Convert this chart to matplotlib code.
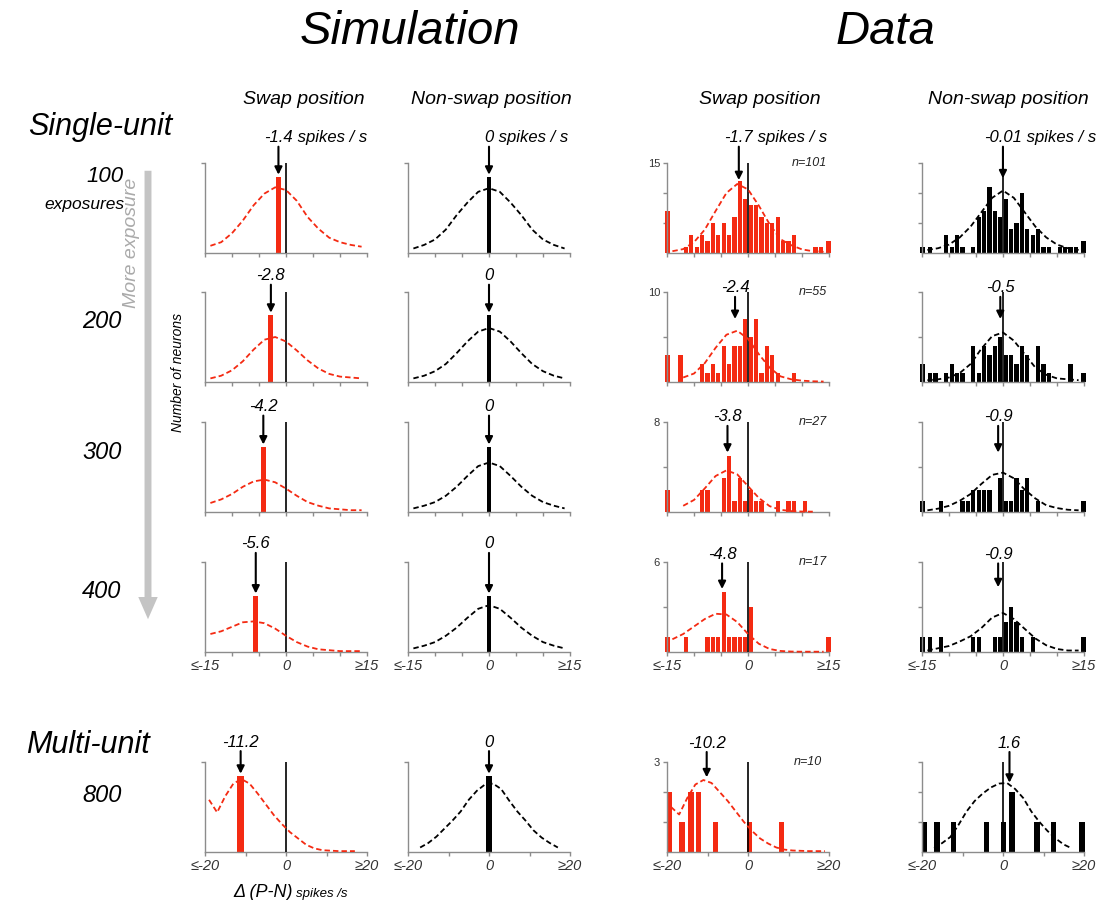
import numpy as np
import matplotlib.pyplot as plt
from matplotlib.patches import FancyArrowPatch

plt.rcParams['font.family'] = ['Liberation Sans', 'DejaVu Sans']

RED = '#f42a12'
AXC = '#8c8c8c'
nan = np.nan

# ---------------------------------------------------------------------------
# Values
# ---------------------------------------------------------------------------
exposures = ['100', '200', '300', '400', '800']

# sample points of the dashed fits (single-unit rows use +-15, multi-unit +-20)
fit_x15 = [-14, -12, -10, -8, -6, -4, -2, 0, 2, 4, 6, 8, 10, 12, 14]
fit_x20 = [-19, -17, -15, -13, -11, -9, -7, -5, -3, -1, 1, 3, 5, 7, 9, 11, 13, 15, 17, 19]

# simulation, swap position
sim_swap_mean = [-1.4, -2.8, -4.2, -5.6, -11.2]
sim_swap_bar = [0.84, 0.74, 0.72, 0.62, 0.84]
sim_swap_fit = [
    [0.08, 0.12, 0.22, 0.36, 0.53, 0.66, 0.73, 0.70, 0.58, 0.40, 0.27, 0.17, 0.12, 0.09, 0.07],
    [0.04, 0.07, 0.13, 0.23, 0.36, 0.47, 0.50, 0.45, 0.35, 0.24, 0.15, 0.09, 0.06, 0.05, 0.04],
    [0.10, 0.14, 0.20, 0.28, 0.34, 0.36, 0.33, 0.26, 0.18, 0.11, 0.07, 0.04, 0.03, 0.02, 0.02],
    [0.20, 0.23, 0.28, 0.33, 0.34, 0.32, 0.26, 0.18, 0.11, 0.06, 0.03, 0.02, 0.01, 0.01, 0.01],
    [0.58, 0.44, 0.62, 0.76, 0.81, 0.76, 0.65, 0.53, 0.41, 0.31, 0.22, 0.15, 0.08, 0.04, 0.02,
     0.015, 0.01, 0.01, 0.01, nan],
]

# simulation, non-swap position
sim_non_mean = [0, 0, 0, 0, 0]
sim_non_bar = [0.84, 0.74, 0.72, 0.62, 0.84]
sim_non_fit = [
    [0.05, 0.09, 0.15, 0.26, 0.42, 0.56, 0.68, 0.72, 0.68, 0.56, 0.42, 0.26, 0.15, 0.09, 0.05],
    [0.04, 0.07, 0.12, 0.20, 0.32, 0.45, 0.56, 0.60, 0.56, 0.45, 0.32, 0.20, 0.12, 0.07, 0.04],
    [0.04, 0.07, 0.11, 0.18, 0.28, 0.40, 0.51, 0.55, 0.51, 0.40, 0.28, 0.18, 0.11, 0.07, 0.04],
    [0.04, 0.07, 0.11, 0.18, 0.27, 0.38, 0.48, 0.52, 0.48, 0.38, 0.27, 0.18, 0.11, 0.07, 0.04],
    [nan, 0.05, 0.10, 0.17, 0.26, 0.35, 0.45, 0.58, 0.68, 0.75, 0.76, 0.70, 0.57, 0.45, 0.35,
     0.24, 0.16, 0.10, 0.05, nan],
]

# recorded data, histogram scales
data_ymax = [15, 10, 8, 6, 3]
data_yticks = [[5, 10, 15], [5, 10], [4, 8], [3, 6], [1, 2, 3]]
data_n = [101, 55, 27, 17, 10]

# recorded data, swap position
data_swap_mean = [-1.7, -2.4, -3.8, -4.8, -10.2]
data_swap_x = [
    [-14.9, -11.5, -10.5, -9.5, -8.5, -7.5, -6.5, -5.5, -4.5, -3.5, -2.5, -1.5, -0.5,
     0.5, 1.5, 2.5, 3.5, 4.5, 5.5, 6.5, 7.5, 8.5, 12.5, 13.5, 14.9],
    [-14.9, -12.5, -8.5, -7.5, -6.5, -5.5, -4.5, -3.5, -2.5, -1.5, -0.5, 0.5, 1.5, 2.5,
     3.5, 4.5, 5.5, 8.5],
    [-14.9, -8.5, -7.5, -4.5, -3.5, -2.5, -1.5, -0.5, 0.5, 1.5, 2.5, 5.5, 7.5, 8.5, 10.5],
    [-14.9, -11.5, -7.5, -6.5, -5.5, -4.5, -3.5, -2.5, -1.5, -0.5, 0.5, 14.9],
    [-19.4, -16.3, -14.1, -12.3, -8.1, 0.3, 8.3],
]
data_swap_h = [
    [7, 1, 3, 1, 3, 2, 5, 3, 5, 3, 6, 12, 9, 8, 8, 6, 5, 5, 6, 2, 2, 3, 1, 1, 2],
    [3, 3, 2, 1, 2, 1, 4, 2, 4, 4, 7, 5, 7, 1, 4, 3, 1, 1],
    [2, 2, 2, 3, 5, 1, 3, 1, 2, 1, 1, 1, 1, 1, 1],
    [1, 1, 1, 1, 1, 4, 1, 1, 1, 1, 3, 1],
    [2, 1, 2, 2, 1, 1, 1],
]
data_swap_fit = [
    [0.3, 0.65, 1.8, 3.9, 7.0, 10.0, 11.5, 10.6, 7.9, 4.8, 2.3, 1.3, 0.6, 0.3, 0.2],
    [nan, 0.5, 0.94, 2.1, 3.8, 5.25, 5.7, 4.8, 3.1, 1.6, 0.63, 0.3, 0.15, 0.08, 0.05],
    [nan, 0.55, 1.07, 2.1, 3.2, 3.7, 3.35, 2.3, 1.25, 0.52, 0.2, 0.08, 0.04, 0.03, nan],
    [0.85, 1.2, 1.7, 2.2, 2.55, 2.5, 2.0, 1.2, 0.55, 0.2, 0.07, 0.03, 0.02, 0.02, 0.02],
    [1.5, 1.25, 1.8, 2.25, 2.4, 2.3, 2.0, 1.7, 1.35, 1.0, 0.7, 0.45, 0.28, 0.15, 0.08,
     0.05, 0.04, 0.03, 0.03, 0.03],
]

# recorded data, non-swap position
data_non_mean = [-0.01, -0.5, -0.9, -0.9, 1.6]
data_non_x = [
    [-14.9, -13.5, -10.5, -9.5, -8.5, -7.5, -5.5, -4.5, -3.5, -2.5, -1.5, -0.5, 0.5, 1.5,
     2.5, 3.5, 4.5, 5.5, 6.5, 7.5, 8.5, 10.5, 11.5, 12.5, 13.5, 14.9],
    [-14.9, -13.5, -12.5, -10.5, -9.5, -8.5, -7.5, -5.5, -4.5, -3.5, -2.5, -1.5, -0.5,
     0.5, 1.5, 2.5, 3.5, 4.5, 6.5, 7.5, 8.5, 12.5, 14.9],
    [-14.9, -11.5, -7.5, -6.5, -5.5, -4.5, -3.5, -2.5, -0.5, 0.5, 1.5, 2.5, 3.5, 4.5, 6.5, 14.9],
    [-14.9, -13.5, -11.5, -5.5, -4.5, -1.5, -0.5, 0.5, 1.5, 2.5, 3.5, 5.5, 14.9],
    [-19.3, -16.3, -12.3, -4.0, 0.2, 2.2, 8.4, 12.4, 19.5],
]
data_non_h = [
    [1, 1, 3, 1, 3, 1, 1, 6, 7, 11, 7, 6, 9, 4, 5, 10, 4, 3, 4, 1, 1, 1, 1, 1, 1, 2],
    [2, 1, 1, 1, 2, 1, 1, 4, 1, 4, 3, 4, 5, 3, 3, 2, 4, 3, 4, 2, 1, 2, 1],
    [1, 1, 1, 1, 2, 2, 2, 2, 3, 1, 1, 3, 2, 3, 1, 1],
    [1, 1, 1, 1, 1, 1, 1, 2, 3, 2, 1, 1, 1],
    [1, 1, 1, 1, 1, 2, 1, 1, 1],
]
data_non_fit = [
    [0.5, 0.8, 1.4, 2.6, 4.4, 6.8, 9.2, 10.4, 9.2, 6.8, 4.4, 2.6, 1.4, 0.8, 0.5],
    [0.2, 0.3, 0.5, 1.0, 2.0, 3.7, 5.1, 5.5, 4.6, 3.1, 1.6, 0.8, 0.4, 0.3, 0.2],
    [0.15, 0.3, 0.55, 1.0, 1.6, 2.5, 3.3, 3.5, 3.0, 2.0, 1.2, 0.6, 0.35, 0.2, 0.15],
    [0.1, 0.25, 0.4, 0.7, 1.05, 1.6, 2.3, 2.6, 2.2, 1.55, 0.9, 0.45, 0.2, 0.1, 0.1],
    [nan, 0.12, 0.3, 0.5, 0.9, 1.35, 1.7, 1.95, 2.15, 2.28, 2.3, 2.1, 1.8, 1.35, 1.0,
     0.7, 0.45, 0.25, 0.12, nan],
]

# arrow tips and label heights, as fractions of each panel's y range
sim_tip = [0.87, 0.77, 0.75, 0.65, 0.87]
sim_label_y = [1.28, 1.18, 1.17, 1.20, 1.22]
swap_tip = [0.81, 0.70, 0.66, 0.70, 0.83]
non_tip = [0.83, 0.70, 0.66, 0.72, 0.77]
data_label_y = [1.28, 1.045, 1.056, 1.083, 1.21]

# ---------------------------------------------------------------------------
# Layout helpers (pixel positions inside a 1099 x 900 figure)
# ---------------------------------------------------------------------------
W, H = 1099, 900
fig = plt.figure(figsize=(W / 100, H / 100), dpi=100)

col_left = [205, 408, 667, 922]
row_base = [253, 382, 512, 652, 852]
AW, AH = 162, 90


def ftext(x, y, s, **kw):
    kw.setdefault('ha', 'center')
    kw.setdefault('va', 'center')
    kw.setdefault('style', 'italic')
    return fig.text(x / W, 1 - y / H, s, **kw)


def panel(col, row, lim, ymax, yticks, ylab=None, xlabels=False):
    ax = fig.add_axes([col_left[col] / W, 1 - row_base[row] / H, AW / W, AH / H])
    ax.patch.set_visible(False)
    for s in ['top', 'right']:
        ax.spines[s].set_visible(False)
    for s in ['left', 'bottom']:
        ax.spines[s].set_color(AXC)
        ax.spines[s].set_linewidth(1.0)
    ax.set_xlim(-lim, lim)
    ax.set_ylim(0, ymax)
    step = 5 if lim == 15 else 10
    xt = list(range(-lim, lim + 1, step))
    ax.set_xticks(xt)
    if xlabels:
        labs = []
        for v in xt:
            if v == -lim:
                labs.append('≤-%d' % lim)
            elif v == lim:
                labs.append('≥%d' % lim)
            elif v == 0:
                labs.append('0')
            else:
                labs.append('')
        ax.set_xticklabels(labs, fontsize=10.5, style='italic', color='#333333')
    else:
        ax.set_xticklabels([])
    ax.set_yticks(yticks)
    ax.set_yticklabels([ylab if (ylab and v == yticks[-1]) else '' for v in yticks],
                       fontsize=8, color='#333333')
    ax.tick_params(axis='both', direction='out', length=3, width=1.0, color=AXC, pad=2)
    return ax


def mark(ax, x, tip, ty, label, suffix=False):
    t = ax.text(x, ty, label, ha='center', va='center', fontsize=12, style='italic',
                clip_on=False)
    if suffix:
        ax.annotate(' spikes / s', xy=(1, 0), xycoords=t, ha='left', va='bottom',
                    fontsize=12, style='italic', annotation_clip=False)
    ax.annotate('', xy=(x, tip), xytext=(0.5, 0), textcoords=t,
                arrowprops=dict(arrowstyle='-|>', color='black', lw=1.5,
                                mutation_scale=11, shrinkA=1, shrinkB=0),
                annotation_clip=False)


def dashed(ax, xs, ys, color):
    ax.plot(xs, ys, color=color, lw=1.3, dashes=(3.0, 1.7), zorder=4, clip_on=False)


# ---------------------------------------------------------------------------
# Panels
# ---------------------------------------------------------------------------
for r in range(5):
    lim = 15 if r < 4 else 20
    grid = fit_x15 if r < 4 else fit_x20
    show_x = r >= 3
    sim_w = 0.9 if r < 4 else 1.6
    dat_w = 0.8 if r < 4 else 1.3
    lab_sfx = (r == 0)

    # simulation, swap
    ax = panel(0, r, lim, 1.0, [1.0], xlabels=show_x)
    ax.bar(sim_swap_mean[r], sim_swap_bar[r], width=sim_w, color=RED, zorder=2)
    ax.plot([0, 0], [0, 1.0], color='black', lw=1.2, zorder=3)
    dashed(ax, grid, sim_swap_fit[r], RED)
    mark(ax, sim_swap_mean[r], sim_tip[r], sim_label_y[r], '%g' % sim_swap_mean[r], lab_sfx)

    # simulation, non-swap
    ax = panel(1, r, lim, 1.0, [1.0], xlabels=show_x)
    ax.bar(sim_non_mean[r], sim_non_bar[r], width=sim_w, color='black', zorder=2)
    dashed(ax, grid, sim_non_fit[r], 'black')
    mark(ax, sim_non_mean[r], sim_tip[r], sim_label_y[r], '%g' % sim_non_mean[r], lab_sfx)

    ym = data_ymax[r]

    # data, swap
    ax = panel(2, r, lim, ym, data_yticks[r], ylab=str(ym), xlabels=show_x)
    ax.bar(data_swap_x[r], data_swap_h[r], width=dat_w, color=RED, zorder=2, clip_on=False)
    ax.plot([0, 0], [0, ym], color='black', lw=1.2, zorder=3)
    dashed(ax, grid, data_swap_fit[r], RED)
    mark(ax, data_swap_mean[r], swap_tip[r] * ym, data_label_y[r] * ym,
         '%g' % data_swap_mean[r], lab_sfx)
    ax.text(0.99 if r < 4 else 0.96, 1.0, 'n=%d' % data_n[r], transform=ax.transAxes,
            ha='right', va='center', fontsize=9, style='italic', color='#222222')

    # data, non-swap
    ax = panel(3, r, lim, ym, data_yticks[r], xlabels=show_x)
    ax.bar(data_non_x[r], data_non_h[r], width=dat_w, color='black', zorder=2, clip_on=False)
    ax.plot([0, 0], [0, ym], color='black', lw=1.2, zorder=3)
    dashed(ax, grid, data_non_fit[r], 'black')
    mark(ax, data_non_mean[r], non_tip[r] * ym, data_label_y[r] * ym,
         '%g' % data_non_mean[r], lab_sfx)

# ---------------------------------------------------------------------------
# Headings and side labels
# ---------------------------------------------------------------------------
ftext(410, 32, 'Simulation', fontsize=34)
ftext(885, 32, 'Data', fontsize=34)

ftext(304, 100, 'Swap position', fontsize=14)
ftext(491, 100, 'Non-swap position', fontsize=14)
ftext(760, 100, 'Swap position', fontsize=14)
ftext(1008, 100, 'Non-swap position', fontsize=14)

ftext(100, 127, 'Single-unit', fontsize=22)
ftext(88, 745, 'Multi-unit', fontsize=22)

ftext(105, 176, exposures[0], fontsize=16)
ftext(84, 204, 'exposures', fontsize=12.5)
for lab, y in zip(exposures[1:], [322, 453, 592, 795]):
    ftext(102, y, lab, fontsize=17)

# "more exposure" arrow
fig.add_artist(FancyArrowPatch((148 / W, 1 - 168 / H), (148 / W, 1 - 622 / H),
                               transform=fig.transFigure,
                               arrowstyle='simple,tail_width=0.5,head_width=1.4,head_length=1.6',
                               mutation_scale=10, color='#c4c4c4', lw=0))
ftext(131, 243, 'More exposure', fontsize=14, rotation=90, color='#aaaaaa')

ftext(178, 372, 'Number of neurons', fontsize=10, rotation=90)

ftext(233, 897, 'Δ (P-N)', fontsize=13, ha='left', va='baseline')
ftext(296, 897, 'spikes /s', fontsize=9.5, ha='left', va='baseline')

fig.savefig('out.png', dpi=100)
